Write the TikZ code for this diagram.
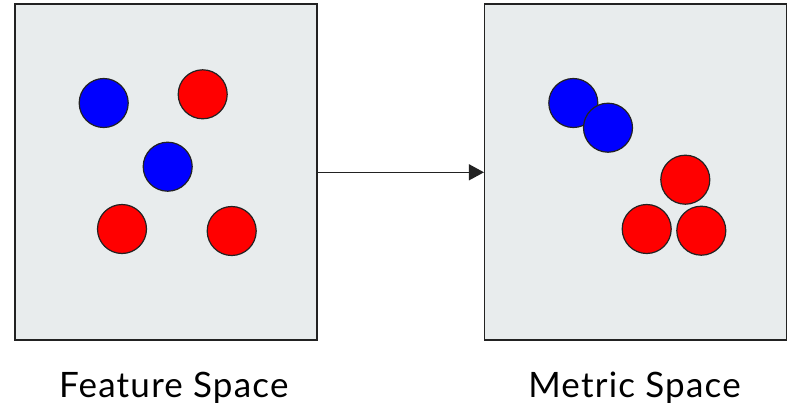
\documentclass[tikz,border=0pt]{standalone}
\usepackage{fontspec}
\setmainfont{Lato}
\newfontfamily\labelfont[LetterSpace=3.5]{Lato}
\usetikzlibrary{arrows.meta}
\definecolor{boxfill}{HTML}{E8ECED}
\definecolor{edge}{HTML}{222222}
\definecolor{dotred}{HTML}{FF0000}
\definecolor{dotblue}{HTML}{0000FF}
\begin{document}
\begin{tikzpicture}[x=1pt,y=-1pt,
  panel/.style={draw=edge,line width=1.5pt,fill=boxfill,inner sep=0pt,minimum width=302pt,minimum height=336pt},
  dot/.style={circle,draw=edge,line width=1.2pt,inner sep=0pt,minimum size=49pt},
  rdot/.style={dot,fill=dotred},
  bdot/.style={dot,fill=dotblue},
  label/.style={font=\labelfont\fontsize{35}{40}\selectfont,text=black,inner sep=0pt}]
\useasboundingbox (0,0) rectangle (788,407);
\node[panel] (feat) at (166,172) {};
\node[panel] (metr) at (635.7,172) {};
\draw[edge,line width=1.2pt,-{Triangle[length=15pt,width=16pt]}] (feat.east |- 0,172.3) coordinate (a0) -- (metr.west |- 0,172.3) coordinate (a1);
% feature space
\node[bdot] (f1) at (103.7,103) {};
\node[rdot] (f2) at (202.7,94.3) {};
\node[bdot] (f3) at (167.7,166.7) {};
\node[rdot] (f4) at (122,229) {};
\node[rdot] (f5) at (231.7,231) {};
% metric space
\node[bdot] (m1) at (573.3,103) {};
\node[bdot] (m2) at (608,127.7) {};
\node[rdot] (m3) at (685.3,179.7) {};
\node[rdot] (m4) at (646.7,229) {};
\node[rdot] (m5) at (701.3,230.7) {};
\node[label,anchor=base] (t1) at (173.8,397.3) {Feature Space};
\node[label,anchor=base] (t2) at (634.5,397.3) {Metric Space};
\end{tikzpicture}
\end{document}
